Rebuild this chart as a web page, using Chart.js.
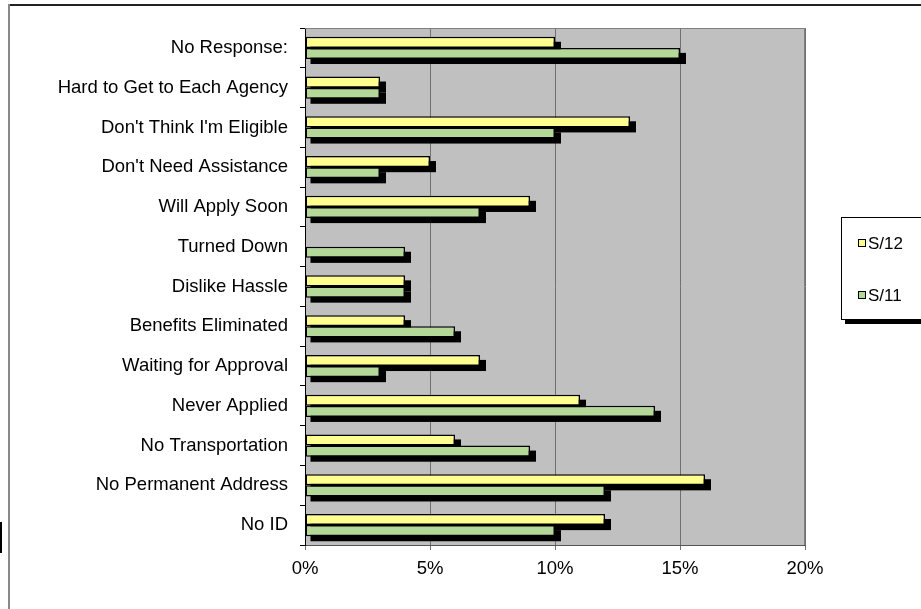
<!DOCTYPE html>
<html>
<head>
<meta charset="utf-8">
<title>Reasons for not applying</title>
<script src="https://cdn.jsdelivr.net/npm/chart.js@4/dist/chart.umd.min.js"></script>
<style>
  html, body { margin: 0; padding: 0; background: #fff; }
  #wrap { width: 921px; height: 609px; position: relative; }
</style>
</head>
<body>
<div id="wrap"><canvas id="chartAlasan"></canvas></div>
<script>
const kategori = [
  "No Response:",
  "Hard to Get to Each Agency",
  "Don't Think I'm Eligible",
  "Don't Need Assistance",
  "Will Apply Soon",
  "Turned Down",
  "Dislike Hassle",
  "Benefits Eliminated",
  "Waiting for Approval",
  "Never Applied",
  "No Transportation",
  "No Permanent Address",
  "No ID"
];
const nilaiS12 = [10, 3, 13, 5, 9, 0, 4, 4, 7, 11, 6, 16, 12];
const nilaiS11 = [15, 3, 10, 3, 7, 4, 4, 6, 3, 14, 9, 12, 10];
const tickPersen = [0, 5, 10, 15, 20];

const FONT = "'Liberation Sans', Arial, sans-serif";

// bingkai luar chart + latar plot abu-abu
const bingkai = {
  id: "bingkai",
  beforeDraw(chart) {
    const { ctx, chartArea: a } = chart;
    ctx.save();
    ctx.fillStyle = "#c0c0c0";
    ctx.fillRect(a.left, a.top, a.right - a.left, a.bottom - a.top);
    ctx.fillStyle = "#222";
    ctx.fillRect(8, 4, 921, 2);
    ctx.fillStyle = "#888";
    ctx.fillRect(8, 4, 2, 609);
    ctx.fillStyle = "#000";
    ctx.fillRect(0, 522, 2, 31);
    ctx.restore();
  },
  afterDraw(chart) {
    const { ctx, chartArea: a } = chart;
    ctx.save();
    ctx.strokeStyle = "#808080";
    ctx.lineWidth = 1;
    ctx.beginPath();
    ctx.moveTo(a.left, a.top + 0.5);
    ctx.lineTo(a.right - 0.5, a.top + 0.5);
    ctx.lineTo(a.right - 0.5, a.bottom);
    ctx.stroke();
    ctx.restore();
  }
};

// bayangan hitam di belakang tiap batang
const bayangan = {
  id: "bayangan",
  beforeDatasetsDraw(chart) {
    const ctx = chart.ctx;
    ctx.save();
    ctx.fillStyle = "#000";
    chart.data.datasets.forEach((ds, i) => {
      chart.getDatasetMeta(i).data.forEach(bar => {
        const { x, y, base, height } = bar.getProps(["x", "y", "base", "height"], true);
        if (x - base < 1) return;
        ctx.fillRect(base + 5, y - height / 2 + 5, x - base + 1, height);
      });
    });
    ctx.restore();
  }
};

// legenda manual di kanan
const legenda = {
  id: "legenda",
  afterDraw(chart) {
    const ctx = chart.ctx;
    const bx = 841, by = 217, bw = 90, bh = 102;
    ctx.save();
    ctx.fillStyle = "#000";
    ctx.fillRect(bx + 4, by + bh, bw, 5);
    ctx.fillStyle = "#fff";
    ctx.fillRect(bx, by, bw, bh);
    ctx.strokeStyle = "#000";
    ctx.lineWidth = 1;
    ctx.strokeRect(bx + 0.5, by + 0.5, bw, bh);
    const posY = [243, 295];
    ctx.font = "17px " + FONT;
    ctx.textBaseline = "middle";
    chart.data.datasets.forEach((ds, i) => {
      const y = posY[i];
      ctx.fillStyle = ds.backgroundColor;
      ctx.fillRect(858, y - 4, 8, 8);
      ctx.strokeStyle = "#000";
      ctx.strokeRect(858.5, y - 3.5, 7, 7);
      ctx.fillStyle = "#000";
      ctx.fillText(ds.label, 868, y + 1);
    });
    ctx.restore();
  }
};

new Chart(document.getElementById("chartAlasan"), {
  type: "bar",
  data: {
    labels: kategori,
    datasets: [
      { label: "S/12", data: nilaiS12, backgroundColor: "#ffff90" },
      { label: "S/11", data: nilaiS11, backgroundColor: "#b4d898" }
    ]
  },
  options: {
    indexAxis: "y",
    responsive: true,
    maintainAspectRatio: false,
    animation: false,
    layout: { padding: { left: 0, right: 116, top: 28, bottom: 0 } },
    datasets: {
      bar: {
        borderColor: "#000",
        borderWidth: 1.5,
        borderSkipped: false,
        barPercentage: 1,
        categoryPercentage: 0.56
      }
    },
    plugins: {
      legend: { display: false },
      tooltip: { enabled: false }
    },
    scales: {
      x: {
        min: 0,
        max: 20,
        afterFit: s => { s.height = 64; },
        afterBuildTicks: s => { s.ticks = tickPersen.map(v => ({ value: v })); },
        grid: { color: "#707070", tickLength: 5, lineWidth: 1 },
        border: { color: "#555", width: 1 },
        ticks: {
          color: "#000",
          padding: 8,
          font: { family: FONT, size: 18.5 },
          callback: v => v + "%"
        }
      },
      y: {
        afterFit: s => { s.width = 305; },
        grid: { offset: true, drawOnChartArea: false, tickLength: 5, color: "#000" },
        border: { color: "#000", width: 1 },
        ticks: {
          color: "#000",
          padding: 12,
          autoSkip: false,
          font: { family: FONT, size: 18.5 }
        }
      }
    }
  },
  plugins: [bingkai, bayangan, legenda]
});
</script>
</body>
</html>
